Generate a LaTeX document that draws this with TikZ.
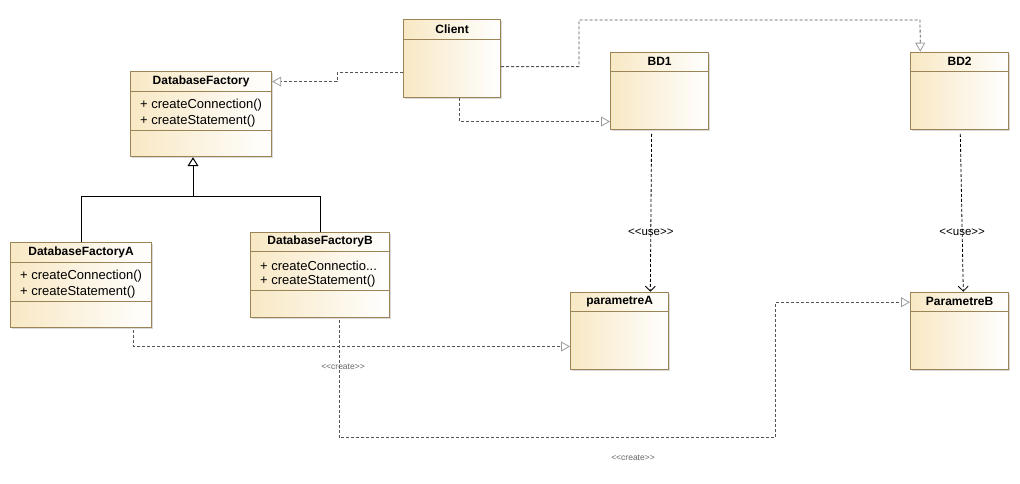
\documentclass[tikz,border=0pt]{standalone}
\usepackage{fontspec}
\setmainfont{Liberation Sans}
\usetikzlibrary{arrows.meta,shadows}

\definecolor{clsfill}{HTML}{F8E8C4}
\definecolor{clsline}{HTML}{9B8455}
\definecolor{lnk}{HTML}{555555}
\definecolor{tip}{HTML}{9A9A9A}

% stereotype text, kerns keep << and >> from turning into guillemets
\newcommand{\stereo}[1]{<\kern0pt<#1>\kern0pt>}

\begin{document}
\begin{tikzpicture}
    [x=1pt, y=-1pt,
     cls/.style={draw=clsline, line width=1.2pt, left color=clsfill, right color=white,
       anchor=north west, inner sep=0pt,
       drop shadow={opacity=0.3, shadow xshift=1.5pt, shadow yshift=-1.5pt}},
     title/.style={font=\bfseries\fontsize{12}{14}\selectfont},
     op/.style={anchor=west, inner sep=0pt, font=\fontsize{13}{15}\selectfont},
     sep/.style={draw=clsline, line width=1pt},
     realize/.style={draw=lnk, line width=0.8pt, dash pattern=on 3pt off 2pt,
       -{Triangle[open, length=9pt, width=10pt, color=tip, line width=0.8pt]}},
     use/.style={draw=black, line width=0.8pt, dash pattern=on 3pt off 2pt,
       -{Straight Barb[length=5pt, width=10pt, line width=0.8pt]}},
     gen/.style={draw=black, line width=1pt, -{Triangle[open, length=9pt, width=11pt]}},
     usel/.style={font=\fontsize{11.5}{13}\selectfont, inner sep=1pt},
     crel/.style={font=\fontsize{8.5}{10}\selectfont, text=black!60, inner sep=0pt}]

  \useasboundingbox (0,0) rectangle (1020,483);

  % classes
  \node[cls, minimum width=97pt, minimum height=78pt] (Client) at (403,19) {};
  \node[cls, minimum width=141pt, minimum height=85pt] (DatabaseFactory) at (130,71) {};
  \node[cls, minimum width=141pt, minimum height=85pt] (DatabaseFactoryA) at (10,242) {};
  \node[cls, minimum width=139pt, minimum height=85pt] (DatabaseFactoryB) at (250,231.5) {};
  \node[cls, minimum width=98pt, minimum height=77pt] (BD1) at (610,51.7) {};
  \node[cls, minimum width=98pt, minimum height=77pt] (BD2) at (910,51.7) {};
  \node[cls, minimum width=98pt, minimum height=77pt] (parametreA) at (570,291.7) {};
  \node[cls, minimum width=98pt, minimum height=77pt] (ParametreB) at (910,291.7) {};

  \foreach \n in {Client,DatabaseFactory,DatabaseFactoryA,DatabaseFactoryB,BD1,BD2,parametreA,ParametreB}
    \draw[sep] ([yshift=-20pt]\n.north west) -- ([yshift=-20pt]\n.north east);
  \foreach \n in {DatabaseFactory,DatabaseFactoryA,DatabaseFactoryB}
    \draw[sep] ([yshift=-59pt]\n.north west) -- ([yshift=-59pt]\n.north east);

  % titles
  \node[title] (tClient) at ([yshift=-10pt]Client.north) {Client};
  \node[title] (tDatabaseFactory) at ([yshift=-10pt]DatabaseFactory.north) {DatabaseFactory};
  \node[title] (tDatabaseFactoryA) at ([yshift=-10pt]DatabaseFactoryA.north) {DatabaseFactoryA};
  \node[title] (tDatabaseFactoryB) at ([yshift=-10pt]DatabaseFactoryB.north) {DatabaseFactoryB};
  \node[title] (tBD1) at ([yshift=-10pt]BD1.north) {BD1};
  \node[title] (tBD2) at ([yshift=-10pt]BD2.north) {BD2};
  \node[title] (tparametreA) at ([yshift=-10pt]parametreA.north) {parametreA};
  \node[title] (tParametreB) at ([yshift=-10pt]ParametreB.north) {ParametreB};

  % operations
  \node[op] (f1) at (140,105) {+ createConnection()};
  \node[op] (f2) at (140,121) {+ createStatement()};
  \node[op] (a1) at (20,276) {+ createConnection()};
  \node[op] (a2) at (20,292) {+ createStatement()};
  \node[op] (b1) at (260,265.5) {+ createConnectio...};
  \node[op] (b2) at (260,281.5) {+ createStatement()};

  % inheritance
  \coordinate (fork) at (193,196);
  \draw[gen] (DatabaseFactoryA.north) |- (fork) -- (fork |- DatabaseFactory.south);
  \draw[line width=1pt] (DatabaseFactoryB.north) |- (fork);

  % client links
  \draw[realize] ([yshift=-14pt]Client.west) -| (337,76.5) |- ([yshift=32.5pt]DatabaseFactory.east);
  \draw[realize] ([xshift=7.5pt]Client.south) |- ([yshift=-30.7pt]BD1.west);
  \draw[realize] ([yshift=-8pt]Client.east) -| (579,43) |- (920,20) -- ([xshift=-39.3pt]BD2.north);

  % use
  \draw[use] ([xshift=-8pt,yshift=-4pt]BD1.south) -- node[usel, pos=0.62] (u1) {\stereo{use}} ([xshift=30.7pt]parametreA.north);
  \draw[use] ([xshift=0.7pt,yshift=-4pt]BD2.south) -- node[usel, pos=0.62] (u2) {\stereo{use}} ([xshift=3.7pt]ParametreB.north);

  % create
  \draw[realize] ([xshift=52.5pt,yshift=-2pt]DatabaseFactoryA.south) |- ([yshift=-15.7pt]parametreA.west);
  \draw[realize] ([xshift=18.8pt,yshift=-2pt]DatabaseFactoryB.south) |- (556,437.3) -| (775.7,369) |- ([yshift=28.6pt]ParametreB.west);
  \node[crel] (c1) at (343,366.5) {\stereo{create}};
  \node[crel] (c2) at (633,458) {\stereo{create}};
\end{tikzpicture}
\end{document}
